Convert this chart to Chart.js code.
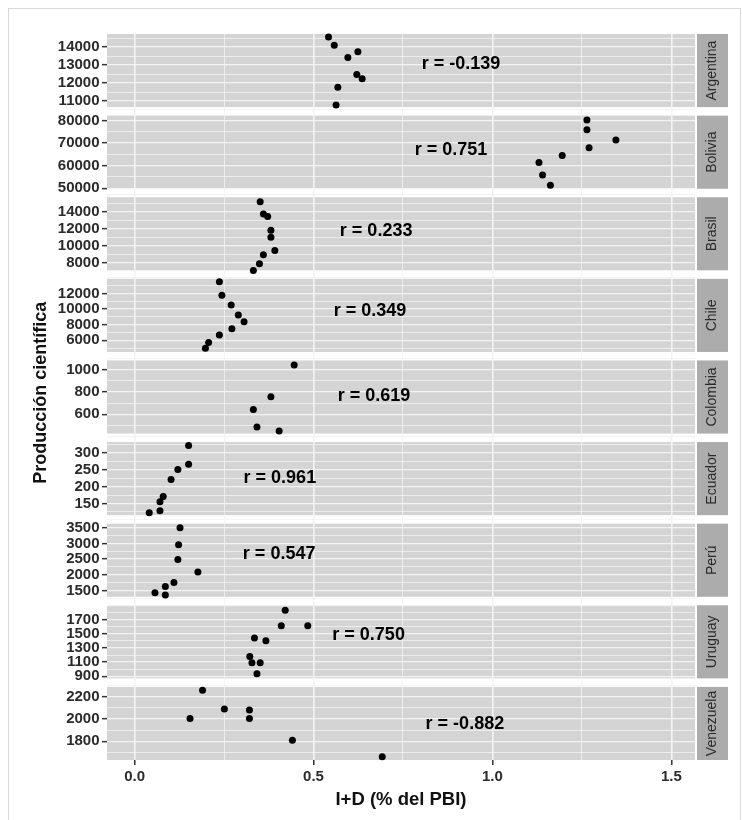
<!DOCTYPE html>
<html lang="es">
<head>
<meta charset="utf-8">
<title>Producción científica vs I+D</title>
<script src="https://cdn.jsdelivr.net/npm/chart.js@4.4.1/dist/chart.umd.min.js"></script>
<style>
  body { margin: 0; background: #fff; }
  #marco { position: absolute; left: 8px; top: 8px; width: 731px; height: 830px; border: 1px solid #d8d8d8; }
  #grafico { position: absolute; left: 0; top: 0; }
</style>
</head>
<body>
<div id="marco"></div>
<canvas id="grafico" width="742" height="820"></canvas>
<script>
// Datos (un panel por pais)
var paises = ['Argentina', 'Bolivia', 'Brasil', 'Chile', 'Colombia', 'Ecuador', 'Perú', 'Uruguay', 'Venezuela'];

// I+D (% del PBI) por pais
var idPBI = [
    [0.542, 0.558, 0.596, 0.624, 0.621, 0.636, 0.568, 0.563],
    [1.264, 1.264, 1.345, 1.270, 1.195, 1.130, 1.140, 1.162],
    [0.351, 0.360, 0.372, 0.381, 0.381, 0.392, 0.360, 0.349, 0.332],
    [0.237, 0.244, 0.270, 0.290, 0.306, 0.272, 0.237, 0.207, 0.198],
    [0.446, 0.381, 0.332, 0.342, 0.404],
    [0.151, 0.151, 0.121, 0.102, 0.080, 0.071, 0.071, 0.041],
    [0.127, 0.123, 0.121, 0.177, 0.110, 0.086, 0.057, 0.086],
    [0.421, 0.410, 0.484, 0.335, 0.367, 0.322, 0.328, 0.351, 0.342],
    [0.190, 0.251, 0.321, 0.321, 0.155, 0.441, 0.692]
];

// Produccion cientifica por pais
var produccion = [
    [14560, 14110, 13420, 13740, 12480, 12240, 11770, 10780],
    [80200, 75870, 71390, 67910, 64560, 61390, 55870, 51390],
    [15140, 13720, 13420, 11800, 10980, 9430, 8940, 7880, 7100],
    [13490, 11780, 10510, 9230, 8390, 7490, 6680, 5710, 4980],
    [1045, 757, 643, 485, 448],
    [323, 267, 251, 221, 171, 155, 128, 122],
    [3500, 2954, 2487, 2088, 1755, 1624, 1428, 1353],
    [1835, 1614, 1614, 1441, 1403, 1179, 1090, 1090, 934],
    [2255, 2088, 2079, 2003, 2003, 1809, 1664]
];

// Coeficientes de correlacion y donde se escriben (en unidades de datos)
var correlaciones = ['r = -0.139', 'r = 0.751', 'r = 0.233', 'r = 0.349', 'r = 0.619', 'r = 0.961', 'r = 0.547', 'r = 0.750', 'r = -0.882'];
var etiquetaX = [0.912, 0.884, 0.675, 0.658, 0.669, 0.406, 0.404, 0.654, 0.923];
var etiquetaY = [13045, 67040, 11673, 9740, 764, 226, 2650, 1477, 1957];

// Marcas con etiqueta del eje y de cada panel
var marcasY = [
    [11000, 12000, 13000, 14000],
    [50000, 60000, 70000, 80000],
    [8000, 10000, 12000, 14000],
    [6000, 8000, 10000, 12000],
    [600, 800, 1000],
    [150, 200, 250, 300],
    [1500, 2000, 2500, 3000, 3500],
    [900, 1100, 1300, 1500, 1700],
    [1800, 2000, 2200]
];
// Rango visible de cada panel
var yMin = [10663, 49800, 7106, 4507, 425, 115, 1297, 870, 1634];
var yMax = [14730, 82170, 15680, 13876, 1085, 333, 3631, 1904, 2285];

var marcasX = [0, 0.5, 1.0, 1.5];
var xMin = -0.077;
var xMax = 1.566;

var huecoRel = 0.1163; // espacio blanco entre paneles, relativo a la altura de un panel
var fuente = "'Liberation Sans', Arial, sans-serif";

// Lineas de la grilla: las marcas principales y una secundaria en medio
function construirMarcas(escala, marcas) {
    var medio = (marcas[1] - marcas[0]) / 2;
    var v = marcas[0] - Math.floor((marcas[0] - escala.min) / medio) * medio;
    var lista = [];
    for (; v <= escala.max + 1e-9; v += medio) {
        lista.push({ value: Math.round(v * 1000) / 1000 });
    }
    escala.ticks = lista;
}

function esPrincipal(marcas, v) {
    var paso = marcas[1] - marcas[0];
    var k = (v - marcas[0]) / paso;
    return Math.abs(k - Math.round(k)) < 1e-6;
}

var escalas = {
    x: {
        type: 'linear',
        position: 'bottom',
        min: xMin,
        max: xMax,
        afterBuildTicks: function (s) { construirMarcas(s, marcasX); },
        afterFit: function (s) { s.height = 60; },
        border: { display: false },
        grid: {
            color: '#f3f3f3',
            lineWidth: function (c) { return c.tick && esPrincipal(marcasX, c.tick.value) ? 1.6 : 0.8; },
            tickColor: function (c) { return c.tick && marcasX.indexOf(c.tick.value) >= 0 ? '#333' : 'rgba(0,0,0,0)'; },
            tickLength: 5,
            tickWidth: 1.5
        },
        ticks: {
            autoSkip: false,
            maxRotation: 0,
            padding: 3,
            color: '#2b2b2b',
            font: { family: fuente, size: 15, weight: 'bold' },
            callback: function (v) { return marcasX.indexOf(v) >= 0 ? v.toFixed(1) : ''; }
        },
        title: {
            display: true,
            text: 'I+D (% del PBI)',
            color: '#111',
            font: { family: fuente, size: 18.5, weight: 'bold' },
            padding: { top: 0, bottom: 9 }
        }
    }
};

var datasets = [];

paises.forEach(function (pais, i) {
    var lo = yMin[i], hi = yMax[i];
    var primero = i === 0;
    // el hueco blanco va encima de cada panel, salvo el primero
    var extra = primero ? 0 : (hi - lo) * huecoRel;
    var marcas = marcasY[i];

    escalas['y' + i] = {
        type: 'linear',
        position: 'left',
        stack: 'paneles',
        stackWeight: primero ? 1 : 1 + huecoRel,
        weight: paises.length - i,
        min: lo,
        max: hi + extra,
        afterBuildTicks: function (s) { construirMarcas(s, marcas); },
        afterFit: function (s) { s.width = 79; },
        border: { display: false },
        grid: {
            color: '#f3f3f3',
            lineWidth: function (c) { return c.tick && esPrincipal(marcas, c.tick.value) ? 1.3 : 0.8; },
            tickColor: function (c) { return c.tick && marcas.indexOf(c.tick.value) >= 0 ? '#333' : 'rgba(0,0,0,0)'; },
            tickLength: 5,
            tickWidth: 1.5
        },
        ticks: {
            autoSkip: false,
            padding: 2.5,
            color: '#2b2b2b',
            font: { family: fuente, size: 15, weight: 'bold' },
            callback: function (v) { return marcas.indexOf(v) >= 0 ? String(v) : ''; }
        },
        title: {
            display: i === 4,
            text: 'Producción científica',
            color: '#111',
            font: { family: fuente, size: 18, weight: 'bold' },
            padding: { top: 2, bottom: 0 }
        }
    };

    datasets.push({
        label: pais,
        xAxisID: 'x',
        yAxisID: 'y' + i,
        data: idPBI[i].map(function (x, k) { return { x: x, y: produccion[i][k] }; }),
        backgroundColor: '#000',
        borderWidth: 0,
        pointRadius: 3.5,
        clip: false
    });
});

// Fondo gris de cada panel y la franja con el nombre del pais a la derecha
var fondoPaneles = {
    id: 'fondoPaneles',
    beforeDraw: function (chart) {
        var ctx = chart.ctx;
        var area = chart.chartArea;
        ctx.save();
        paises.forEach(function (pais, i) {
            var s = chart.scales['y' + i];
            var arriba = s.getPixelForValue(yMax[i]);
            var abajo = s.getPixelForValue(yMin[i]);
            ctx.fillStyle = '#d4d4d4';
            ctx.fillRect(area.left, arriba, area.right - area.left, abajo - arriba);
            ctx.fillStyle = '#acacac';
            ctx.fillRect(area.right + 2, arriba, 31, abajo - arriba);
            ctx.save();
            ctx.translate(area.right + 2 + 15.5, (arriba + abajo) / 2);
            ctx.rotate(-Math.PI / 2);
            ctx.fillStyle = '#2a2a2a';
            ctx.font = '14px ' + fuente;
            ctx.textAlign = 'center';
            ctx.textBaseline = 'middle';
            ctx.fillText(pais, 0, 0);
            ctx.restore();
        });
        ctx.restore();
    },
    afterDatasetsDraw: function (chart) {
        var ctx = chart.ctx;
        ctx.save();
        ctx.fillStyle = '#000';
        ctx.font = 'bold 18px ' + fuente;
        ctx.textAlign = 'center';
        ctx.textBaseline = 'middle';
        correlaciones.forEach(function (texto, i) {
            var px = chart.scales.x.getPixelForValue(etiquetaX[i]);
            var py = chart.scales['y' + i].getPixelForValue(etiquetaY[i]);
            ctx.fillText(texto, px, py);
        });
        ctx.restore();
    }
};

new Chart(document.getElementById('grafico'), {
    type: 'scatter',
    data: { datasets: datasets },
    options: {
        responsive: false,
        animation: false,
        layout: { padding: { left: 28, right: 47, top: 34, bottom: 0 } },
        plugins: {
            legend: { display: false },
            tooltip: { enabled: false }
        },
        scales: escalas
    },
    plugins: [fondoPaneles]
});
</script>
</body>
</html>
